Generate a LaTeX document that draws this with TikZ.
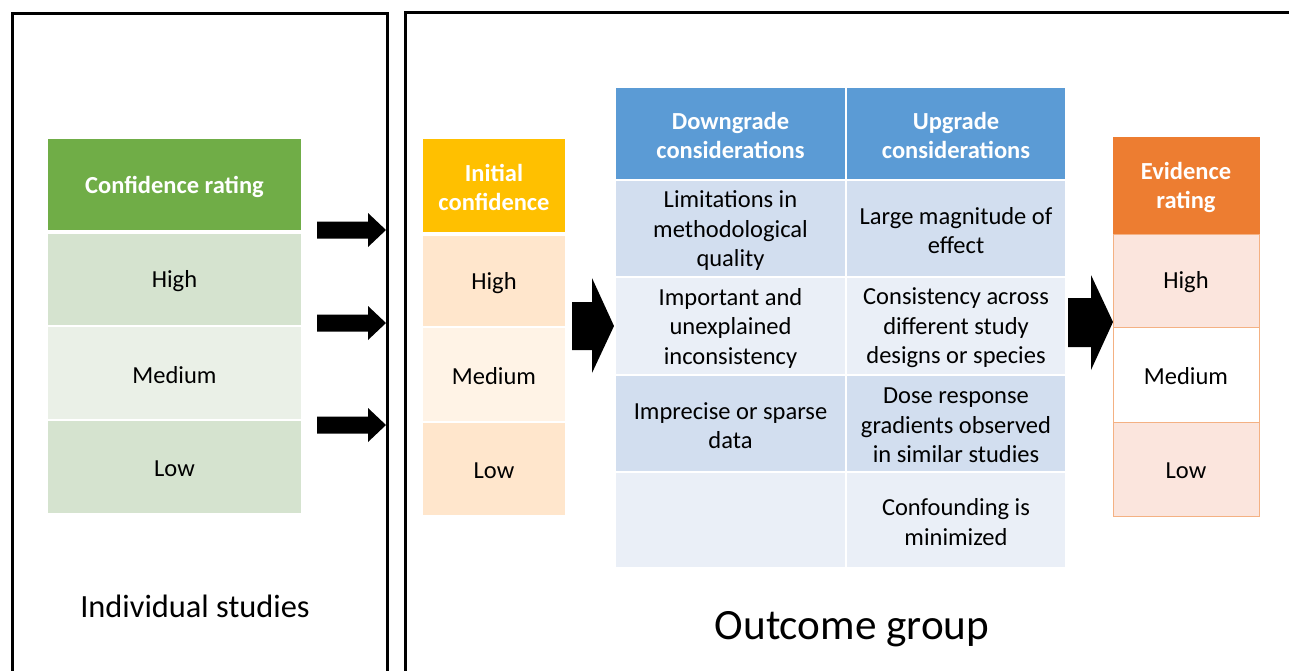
\documentclass[tikz,border=0pt]{standalone}
\usepackage{fontspec}
\setmainfont{Carlito}
\definecolor{gHead}{HTML}{70AD47}
\definecolor{gDark}{HTML}{D5E3CF}
\definecolor{gLight}{HTML}{EAF0E7}
\definecolor{yHead}{HTML}{FFC000}
\definecolor{yDark}{HTML}{FFE6CC}
\definecolor{yLight}{HTML}{FFF3E6}
\definecolor{bHead}{HTML}{5B9BD5}
\definecolor{bDark}{HTML}{D2DEEF}
\definecolor{bLight}{HTML}{EAEFF7}
\definecolor{oHead}{HTML}{ED7D31}
\definecolor{oDark}{HTML}{FBE5DD}
\definecolor{oLine}{HTML}{F4B183}
\tikzset{
  cell/.style={draw=white, line width=2pt, inner sep=0pt, align=center,
    font=\fontsize{24.5}{29.5}\selectfont, text=black},
  headcell/.style={cell, text=white, font=\bfseries\fontsize{24.5}{29.5}\selectfont},
  ocell/.style={cell, draw=oLine, line width=1pt},
  frame/.style={draw=black, line width=3pt},
  blockarrow/.style={fill=black, draw=none},
}
\newcommand{\cellat}[7]{% style, name, x1, y1, x2, y2, text
  \node[#1, minimum width={#5-#3}, minimum height={#6-#4}] (#2) at ({(#3+#5)/2},{(#4+#6)/2}) {};
  \node[#1, draw=none, fill=none, minimum width=0pt, minimum height=0pt, yshift=-2pt] (#2t) at (#2.center) {#7};}
\begin{document}
\begin{tikzpicture}[x=1pt,y=-1pt]
\useasboundingbox (0,0) rectangle (1289,670);
% frames
\draw[frame] (12,700) -- (12,13.5) -- (387,13.5) -- (387,700);
\draw[frame] (405,700) -- (405,12) -- (1300,12);
% left table
\cellat{headcell, fill=gHead}{c0}{47}{138}{302}{231}{Confidence rating}
\cellat{cell, fill=gDark}{c1}{47}{233}{302}{326}{High}
\cellat{cell, fill=gLight}{c2}{47}{326}{302}{420}{Medium}
\cellat{cell, fill=gDark}{c3}{47}{420}{302}{514}{Low}
\node[font=\fontsize{32.4}{38}\selectfont] (ind) at (195,606) {Individual studies};
% small arrows
\foreach \yy/\nm in {230/a1, 323/a2, 425/a3}{
  \fill[blockarrow] (317,\yy-8.5) -- (368,\yy-8.5) -- (368,\yy-17) -- (386,\yy)
     -- (368,\yy+17) -- (368,\yy+8.5) -- (317,\yy+8.5) -- cycle;
}
% initial confidence
\cellat{headcell, fill=yHead}{i0}{422}{138}{566}{233}{Initial\\confidence}
\cellat{cell, fill=yDark}{i1}{422}{235}{566}{327}{High}
\cellat{cell, fill=yLight}{i2}{422}{327}{566}{422}{Medium}
\cellat{cell, fill=yDark}{i3}{422}{422}{566}{516}{Low}
% big arrow 1
\fill[blockarrow] (572,302) -- (592,302) -- (592,278) -- (614,326) -- (592,373)
   -- (592,350) -- (572,350) -- cycle;
% middle table
\cellat{headcell, fill=bHead}{d0}{615}{87}{846}{180}{Downgrade\\considerations}
\cellat{headcell, fill=bHead}{u0}{846}{87}{1066}{180}{Upgrade\\considerations}
\cellat{cell, fill=bDark}{d1}{615}{180}{846}{277}{Limitations in\\methodological\\quality}
\cellat{cell, fill=bDark}{u1}{846}{180}{1066}{277}{Large magnitude of\\effect}
\cellat{cell, fill=bLight}{d2}{615}{277}{846}{375}{Important and\\unexplained\\inconsistency}
\cellat{cell, fill=bLight}{u2}{846}{277}{1066}{375}{Consistency across\\different study\\designs or species}
\cellat{cell, fill=bDark}{d3}{615}{375}{846}{472}{Imprecise or sparse\\data}
\cellat{cell, fill=bDark}{u3}{846}{375}{1066}{472}{Dose response\\gradients observed\\in similar studies}
\cellat{cell, fill=bLight}{d4}{615}{472}{846}{568}{}
\cellat{cell, fill=bLight}{u4}{846}{472}{1066}{568}{Confounding is\\minimized}
\node[font=\fontsize{43.2}{50}\selectfont] (out) at (852,629) {Outcome group};
% big arrow 2
\fill[blockarrow] (1068,298) -- (1091,298) -- (1091,275) -- (1113,322) -- (1091,370)
   -- (1091,347) -- (1068,347) -- cycle;
% evidence rating
\cellat{headcell, fill=oHead, draw=oHead, line width=1pt}{e0}{1113}{137}{1259}{234}{Evidence\\rating}
\cellat{ocell, fill=oDark}{e1}{1113}{234}{1259}{327}{High}
\cellat{ocell, fill=white}{e2}{1113}{327}{1259}{422}{Medium}
\cellat{ocell, fill=oDark}{e3}{1113}{422}{1259}{516}{Low}
\end{tikzpicture}
\end{document}
